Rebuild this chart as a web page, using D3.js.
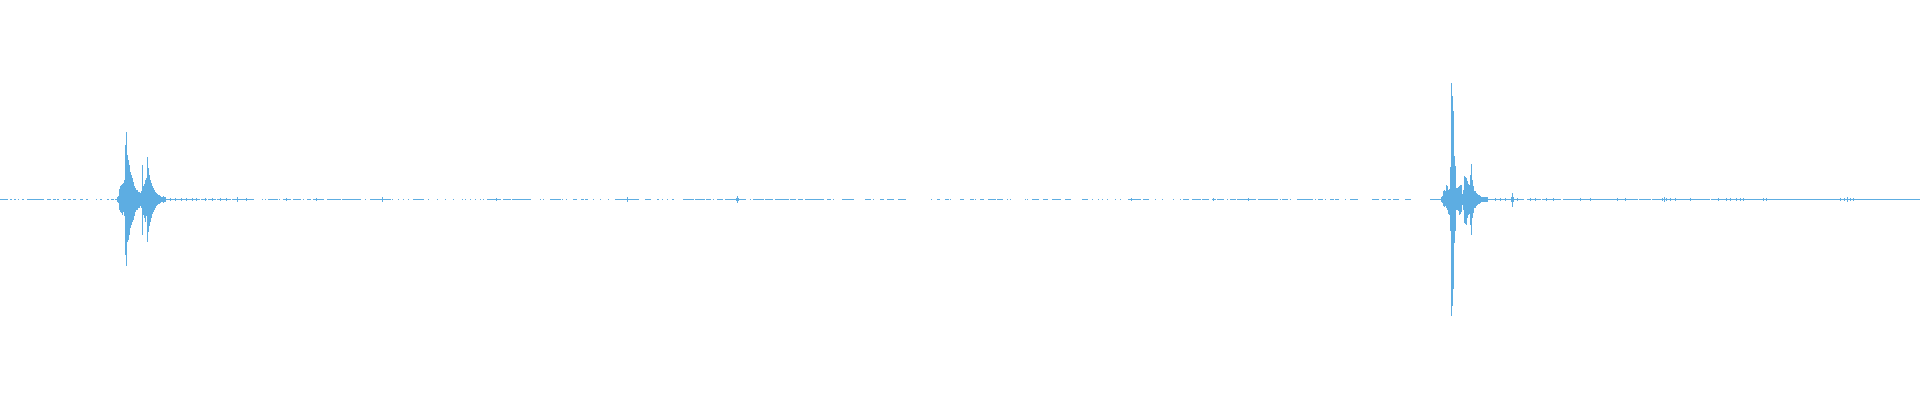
<!DOCTYPE html>
<html>
<head>
<meta charset="utf-8">
<script src="https://cdn.jsdelivr.net/npm/d3@7"></script>
<style>
  html, body { margin: 0; padding: 0; background: #ffffff; }
  svg { display: block; }
</style>
</head>
<body>
<div id="chart"></div>
<script>
// ---- data: per-pixel-column peak amplitudes of an audio waveform (normalised -1..1) ----
const columnCount = 1920;
const quietLevel = 0.004;

// column spans where a faint (non-zero) signal is present; everything else is digital silence
const audibleSpans = [
  [0,7],[10,11],[14,15],[18,18],[22,23],[27,43],[47,50],[53,55],[57,58],[63,65],[68,70],[73,75],
  [80,82],[86,87],[96,96],[100,101],[107,108],[111,113],[115,116],[166,199],[201,206],[208,215],
  [217,230],[232,253],[262,262],[265,265],[268,277],[279,279],[283,290],[293,300],[303,303],
  [307,310],[313,323],[327,340],[342,360],[365,365],[370,390],[392,392],[398,398],[403,403],
  [408,408],[413,423],[428,428],[437,437],[445,445],[453,453],[462,462],[465,465],[470,470],
  [475,475],[480,480],[483,483],[487,500],[503,510],[512,530],[540,540],[543,543],[550,560],
  [562,562],[566,566],[573,576],[581,583],[585,587],[593,593],[600,600],[608,608],[615,638],
  [645,650],[657,658],[662,662],[667,667],[672,673],[683,693],[695,704],[706,710],[713,713],
  [717,722],[725,745],[750,750],[753,763],[765,772],[775,788],[790,795],[798,802],[805,823],
  [827,830],[833,833],[842,853],[865,870],[873,873],[880,883],[887,893],[898,905],[931,931],
  [937,939],[945,948],[950,950],[960,963],[970,973],[975,975],[980,983],[988,995],[997,1002],
  [1007,1007],[1010,1010],[1025,1025],[1027,1027],[1032,1038],[1043,1047],[1052,1060],
  [1065,1070],[1082,1087],[1092,1092],[1098,1098],[1102,1102],[1107,1107],[1115,1115],
  [1120,1120],[1128,1140],[1143,1148],[1155,1155],[1162,1162],[1173,1173],[1180,1180],
  [1183,1188],[1192,1200],[1202,1208],[1212,1215],[1217,1223],[1227,1227],[1230,1235],
  [1237,1255],[1258,1277],[1280,1280],[1282,1287],[1290,1290],[1297,1312],[1315,1315],
  [1318,1322],[1325,1325],[1330,1333],[1335,1338],[1345,1345],[1350,1357],[1372,1378],
  [1382,1385],[1388,1390],[1393,1398],[1405,1410],[1430,1440],[1488,1510],[1513,1523],
  [1527,1540],[1542,1560],[1563,1637],[1639,1650],[1652,1709],[1711,1792],[1793,1919]
];

// small ticks (column, symmetric amplitude)
const ticks = [
  [170,0.008],[175,0.008],[181,0.008],[186,0.008],[192,0.008],[196,0.008],[205,0.008],[212,0.008],
  [220,0.008],[226,0.008],[246,0.008],[286,0.008],[316,0.008],[496,0.01],[736,0.01],[738,0.01],
  [1131,0.01],[1213,0.008],[1248,0.008],[1495,0.008],[1500,0.008],[1505,0.008],[1517,0.008],
  [1530,0.008],[1535,0.008],[1546,0.008],[1553,0.008],[1580,0.008],[1590,0.008],[1617,0.008],
  [1625,0.008],[1662,0.008],[1666,0.008],[1670,0.008],[1675,0.008],[1690,0.008],[1718,0.008],
  [1726,0.008],[1730,0.008],[1736,0.008],[1740,0.008],[1743,0.008],[1763,0.008],[1766,0.008],
  [1840,0.008],[1844,0.008],[1850,0.008],[1853,0.008]
];

// isolated blips: [column, max, min]
const blips = [
  [237,0.015,-0.015],[382,0.012,-0.012],[627,0.012,-0.012],[737,0.018,-0.018],
  [1511,0.015,-0.015],[1512,0.033,-0.038],[1513,0.012,-0.012],[1664,0.015,-0.015],[1847,0.012,-0.012]
];

// first burst
const burst1Start = 117;
const burst1Max = [0.013,0.018,0.053,0.068,0.073,0.078,0.083,0.098,0.273,0.338,0.223,0.198,0.173,0.138,
  0.123,0.108,0.088,0.068,0.058,0.048,0.048,0.038,0.038,0.033,0.043,0.173,0.068,0.078,0.098,0.108,
  0.213,0.158,0.123,0.098,0.083,0.068,0.058,0.048,0.038,0.033,0.028,0.023,0.023,0.018,0.013,0.013,
  0.018,0.013,0.013];
const burst1Min = [-0.013,-0.018,-0.053,-0.063,-0.068,-0.078,-0.063,-0.083,-0.278,-0.333,-0.213,-0.203,
  -0.178,-0.143,-0.128,-0.113,-0.103,-0.083,-0.063,-0.053,-0.053,-0.043,-0.043,-0.033,-0.043,-0.178,
  -0.078,-0.093,-0.113,-0.083,-0.213,-0.163,-0.133,-0.113,-0.093,-0.073,-0.063,-0.053,-0.043,-0.033,
  -0.028,-0.023,-0.023,-0.018,-0.013,-0.013,-0.018,-0.013,-0.013];

// second burst
const burst2Start = 1441;
const burst2Max = [0.013,0.018,0.043,0.048,0.043,0.073,0.068,0.048,0.053,0.163,0.584,0.519,0.444,0.218,
  0.168,0.058,0.058,0.063,0.068,0.073,0.073,0.028,0.048,0.118,0.113,0.108,0.093,0.078,0.073,0.123,
  0.178,0.098,0.068,0.043,0.043,0.033,0.028,0.023,0.023,0.018,0.013,0.013,0.013,0.013,0.013,0.013,0.013];
const burst2Min = [-0.013,-0.018,-0.033,-0.038,-0.033,-0.043,-0.053,-0.073,-0.078,-0.158,-0.584,-0.534,
  -0.449,-0.218,-0.158,-0.053,-0.053,-0.058,-0.078,-0.073,-0.063,-0.028,-0.053,-0.118,-0.123,-0.128,
  -0.093,-0.078,-0.073,-0.128,-0.178,-0.093,-0.068,-0.043,-0.043,-0.033,-0.028,-0.023,-0.023,-0.018,
  -0.013,-0.013,-0.013,-0.013,-0.013,-0.013,-0.013];

// ---- build column peaks ----
const peaks = d3.range(columnCount).map(i => ({ i, max: 0, min: 0 }));
audibleSpans.forEach(([a, b]) => { for (let i = a; i <= b; i++) { peaks[i].max = quietLevel; peaks[i].min = -quietLevel; } });
ticks.forEach(([c, a]) => { peaks[c].max = a; peaks[c].min = -a; });
blips.forEach(([c, mx, mn]) => { peaks[c].max = mx; peaks[c].min = mn; });
burst1Max.forEach((v, k) => { peaks[burst1Start + k].max = v; peaks[burst1Start + k].min = burst1Min[k]; });
burst2Max.forEach((v, k) => { peaks[burst2Start + k].max = v; peaks[burst2Start + k].min = burst2Min[k]; });

// ---- draw ----
const W = 1920, H = 400;
const svg = d3.select("#chart").append("svg").attr("width", W).attr("height", H);
const x = d3.scaleLinear().domain([0, columnCount]).range([0, W]);
const y = d3.scaleLinear().domain([-1, 1]).range([399, 0]);

svg.append("g")
  .attr("fill", "#5dade2")
  .attr("shape-rendering", "crispEdges")
  .selectAll("rect")
  .data(peaks.filter(p => p.max !== 0 || p.min !== 0))
  .join("rect")
  .attr("x", d => x(d.i))
  .attr("width", d => x(d.i + 1) - x(d.i))
  .attr("y", d => Math.round(y(d.max)))
  .attr("height", d => {
    const t = Math.round(y(d.max)), b = Math.round(y(d.min));
    return Math.max(1, b - t);
  });
</script>
</body>
</html>
